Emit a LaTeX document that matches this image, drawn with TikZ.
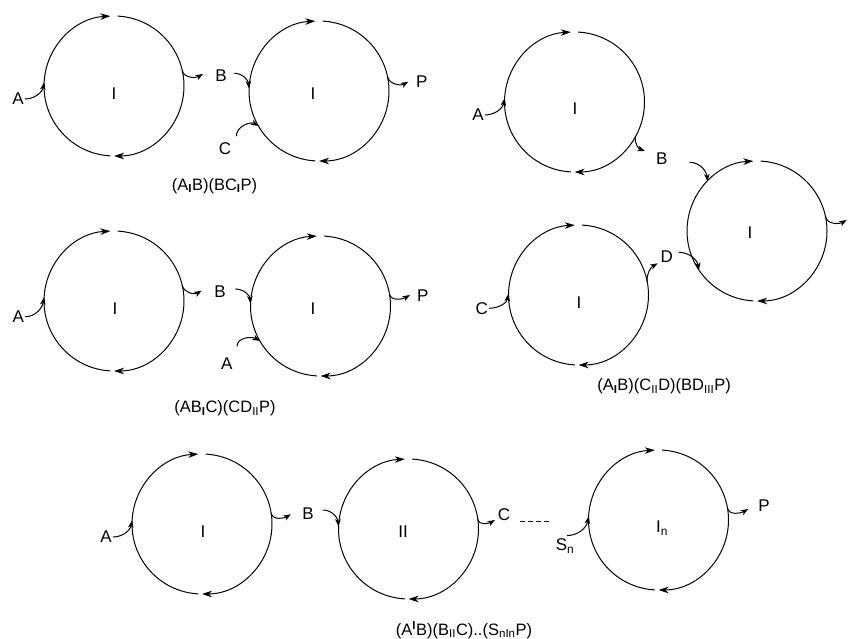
\documentclass[tikz,border=0pt]{standalone}
\usepackage{fontspec}
\setmainfont{Liberation Sans}
\usepackage{tikz}
\usetikzlibrary{arrows.meta}
\tikzset{
  ring/.style     = {circle, minimum size=140pt, inner sep=0pt, outer sep=0pt},
  cyc/.style      = {line width=1pt, -{Stealth[length=10pt,width=6.5pt,inset=3pt]}},
  rx/.style       = {line width=1pt, -{Stealth[length=7.5pt,width=5.5pt,inset=2pt]}},
  enz/.style      = {font=\fontsize{17}{20}\selectfont, inner sep=0pt},
  sp/.style       = {font=\fontsize{17}{20}\selectfont, inner sep=1pt},
  schem/.style    = {font=\fontsize{16.5}{19}\selectfont, inner sep=0pt},
  dashline/.style = {line width=1pt, dash pattern=on 5pt off 3pt},
}
\newcommand{\bsub}{\textsubscript{\textbf{I}}}

\begin{document}
\begin{tikzpicture}[x=1pt,y=1pt]
  \useasboundingbox (0,0) rectangle (854,639);

  % cycles: name / centre / label / label offset
  \foreach \n/\x/\y/\t/\dx/\dy in {c1/114/553/I/0/-8, c2/319/548/I/-6/-3,
      c3/114/338/I/1/-8, c4/320.5/333/I/-7.5/-3, c5/574.5/537/I/0.5/-7,
      c6/757/408/I/-7/-2, c7/578.5/344/I/0.5/-8, c8/202/115/I/1/-8,
      c9/408.5/110/II/-5.5/-3, c10/658.5/119/{I\textsubscript{n}}/3.5/-8} {
    \node[ring] (\n) at (\x,\y) {};
    \node[enz] (\n-l) at (\x+\dx,\y+\dy) {\t};
    \draw[cyc] (\n.267) arc[start angle=267, end angle=93, radius=70];
    \draw[cyc] (\n.87) arc[start angle=87, end angle=-90, radius=70];
  }

  % (A_I B)(B C_I P)
  \node[sp] (a1) at (18,540) {A};
  \node[sp] (b1) at (221,563) {B};
  \node[sp] (k1) at (225,490.7) {C};
  \node[sp] (p1) at (421.7,557.3) {P};
  \coordinate (o1) at (203,565);
  \coordinate (o2) at (408.3,557.3);
  \draw[rx] (a1.east) to[out=0,in=-100] (c1.177);
  \draw[rx] (c1.13) to[out=-80,in=210] (o1);
  \draw[rx] ([shift={(6.5,2.7)}]b1.east) to[out=0,in=95] (c2.178);
  \draw[rx] ([shift={(4,5)}]k1.north east) to[out=90,in=150] (c2.210);
  \draw[rx] (c2.12) to[out=-80,in=210] (o2);
  \node[schem] (cap1) at (214.5,453) {(A\bsub B)(BC\bsub P)};

  % (A B_I C)(C D_II P)
  \node[sp] (a2) at (18.3,322.3) {A};
  \node[sp] (b2) at (220,347.3) {B};
  \node[sp] (a3) at (226.7,275.7) {A};
  \node[sp] (p2) at (422.7,343) {P};
  \coordinate (o3) at (201.7,348.3);
  \coordinate (o4) at (410,344);
  \draw[rx] (a2.east) to[out=0,in=-100] (c3.177);
  \draw[rx] (c3.13) to[out=-80,in=210] (o3);
  \draw[rx] ([shift={(8.5,2.7)}]b2.east) to[out=0,in=95] (c4.178);
  \draw[rx] ([shift={(3.5,10)}]a3.north east) to[out=90,in=150] (c4.210);
  \draw[rx] (c4.10) to[out=-80,in=210] (o4);
  \node[schem] (cap2) at (225,230.7) {(AB\bsub C)(CD\textsubscript{II}P)};

  % (A_I B)(C_II D)(B D_III P)
  \node[sp] (a4) at (478,524) {A};
  \node[sp] (b3) at (661.7,480.7) {B};
  \node[sp] (d1) at (666.7,382.3) {D};
  \node[sp] (k2) at (481.7,330.7) {C};
  \coordinate (o5) at (645,488);
  \coordinate (o6) at (846.7,419);
  \coordinate (o7) at (657.7,375.7);
  \draw[rx] (a4.east) to[out=0,in=-100] (c5.177);
  \draw[rx] (c5.-30) to[out=-95,in=160] (o5);
  \draw[rx] ([shift={(21,-4)}]b3.east) to[out=0,in=95] (c6.135);
  \draw[rx] (c6.12) to[out=-80,in=210] (o6);
  \draw[rx] ([shift={(4.6,4.4)}]d1.east) to[out=0,in=100] (c6.214);
  \draw[rx] (k2.east) to[out=0,in=-100] (c7.179);
  \draw[rx] (c7.11) to[out=95,in=210] (o7);
  \node[schem] (cap3) at (664,252.3) {(A\bsub B)(C\textsubscript{II}D)(BD\textsubscript{III}P)};

  % (A^I B)(B_II C)..(S_n I_n P)
  \node[sp] (a5) at (106,102) {A};
  \node[sp] (b4) at (308,125) {B};
  \node[sp] (k3) at (504,124.7) {C};
  \node[sp] (s1) at (565,93) {S\textsubscript{n}};
  \node[sp] (p3) at (764,133) {P};
  \coordinate (o8) at (291,124.7);
  \coordinate (o9) at (495,119);
  \coordinate (o10) at (748.3,130);
  \draw[rx] (a5.east) to[out=0,in=-100] (c8.177);
  \draw[rx] (c8.9) to[out=-80,in=210] (o8);
  \draw[rx] ([shift={(8,4)}]b4.east) to[out=0,in=95] (c9.178);
  \draw[rx] (c9.8) to[out=-80,in=210] (o9);
  \draw[dashline] ([shift={(9,-7)}]k3.east) -- +(29,0);
  \draw[rx] ([shift={(2,2)}]s1.north) to[out=0,in=-100] (c10.177);
  \draw[rx] (c10.10) to[out=-80,in=210] (o10);
  \node[schem] (cap4) at (464,9) {(A\textsuperscript{\textbf{I}}B)(B\textsubscript{II}C)..(S\textsubscript{nIn}P)};
\end{tikzpicture}
\end{document}
